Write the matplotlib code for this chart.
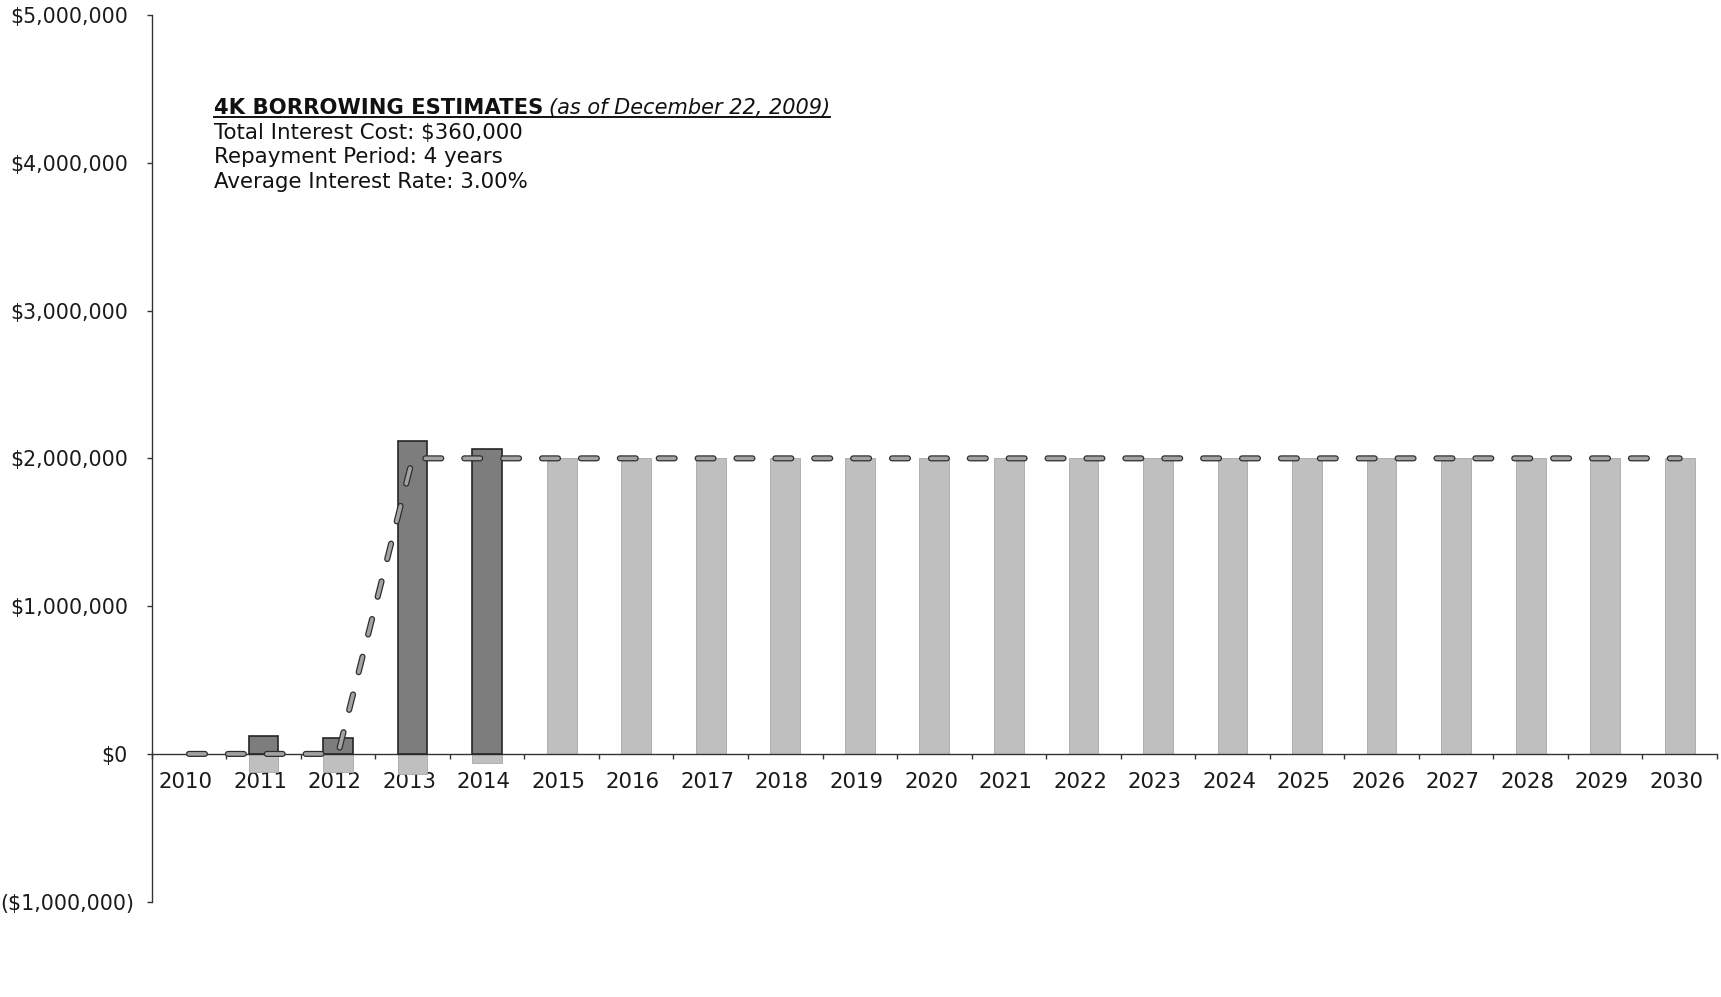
import matplotlib
matplotlib.use("Agg")
import matplotlib.pyplot as plt
import matplotlib.patheffects as pe
import matplotlib.transforms as mtransforms
from matplotlib.lines import Line2D
from matplotlib.ticker import FixedLocator, FuncFormatter, NullFormatter
import numpy as np

# ---- data ----
years = [2010, 2011, 2012, 2013, 2014, 2015, 2016, 2017, 2018, 2019, 2020,
         2021, 2022, 2023, 2024, 2025, 2026, 2027, 2028, 2029, 2030]
borrowing = [0, 118000, 110000, 2120000, 2060000, 0, 0, 0, 0, 0, 0,
             0, 0, 0, 0, 0, 0, 0, 0, 0, 0]
projected = [0, -125000, -125000, -135000, -60000, 2000000, 2000000, 2000000,
             2000000, 2000000, 2000000, 2000000, 2000000, 2000000, 2000000,
             2000000, 2000000, 2000000, 2000000, 2000000, 2000000]
limit_line = [0, 0, 0, 2000000, 2000000, 2000000, 2000000, 2000000, 2000000,
              2000000, 2000000, 2000000, 2000000, 2000000, 2000000, 2000000,
              2000000, 2000000, 2000000, 2000000, 2000000]
y_ticks = [-1000000, 0, 1000000, 2000000, 3000000, 4000000, 5000000]

title_bold = "4K BORROWING ESTIMATES"
title_italic = "(as of December 22, 2009)"
info_lines = ["Total Interest Cost: $360,000",
              "Repayment Period: 4 years",
              "Average Interest Rate: 3.00%"]

plt.rcParams["font.family"] = ["DejaVu Sans"]
plt.rcParams["lines.scale_dashes"] = False
FS_Y = 14.8
FS_X = 15.3
FS_T = 15.4
W, H = 1721, 997

fig = plt.figure(figsize=(W / 100, H / 100), dpi=100)
ax = fig.add_axes([151.7 / W, 1 - 901.7 / H, (1717 - 151.7) / W, (901.7 - 15) / H])

x = np.arange(len(years))
ax.bar(x, projected, width=0.40, color="#bfbfbf",
       edgecolor=["#a8a8a8" if v else "none" for v in projected],
       linewidth=0.6, zorder=2)
ax.bar(x, borrowing, width=0.40, color="#7d7d7d",
       edgecolor=["#262626" if v else "none" for v in borrowing],
       linewidth=1.2, zorder=3)

ax.plot(x, limit_line, color="#a3a3a3", lw=2.6, dashes=(11.5, 16.5),
        dash_capstyle="round", zorder=4,
        path_effects=[pe.Stroke(linewidth=4.4, foreground="#2e2e2e"), pe.Normal()])

ax.set_xlim(-0.5, len(years) - 0.5)
ax.set_ylim(-1000000, 5000000)

for s in ("top", "right"):
    ax.spines[s].set_visible(False)
ax.spines["bottom"].set_position(("data", 0))
for s in ("bottom", "left"):
    ax.spines[s].set_color("#333333")
    ax.spines[s].set_linewidth(1.0)


def money(v, pos=None):
    if v < 0:
        return "(${:,.0f})".format(-v)
    return "${:,.0f}".format(v)


ax.yaxis.set_major_locator(FixedLocator(y_ticks))
ax.yaxis.set_major_formatter(FuncFormatter(money))
ax.tick_params(axis="y", which="major", direction="out", length=3.6,
               width=1.0, color="#333333", pad=13.6, labelsize=FS_Y,
               labelcolor="#1a1a1a")

# category boundaries carry the tick marks, centres carry the year labels
ax.xaxis.set_major_locator(FixedLocator(np.arange(-0.5, len(years), 1.0)))
ax.xaxis.set_major_formatter(NullFormatter())
ax.xaxis.set_minor_locator(FixedLocator(x - 0.044))
ax.xaxis.set_minor_formatter(FuncFormatter(lambda v, p: str(years[int(round(v))])))
ax.tick_params(axis="x", which="major", direction="out", length=3.6,
               width=1.0, color="#333333")
ax.tick_params(axis="x", which="minor", length=0, pad=13.3, labelsize=FS_X,
               labelcolor="#1a1a1a")

# the parenthesised negative label hangs a little to the right of the others
neg_tick = ax.yaxis.get_major_ticks(len(y_ticks))[0]
neg_tick.label1.set_transform(
    neg_tick.label1.get_transform()
    + mtransforms.ScaledTranslation(0.06, 0, fig.dpi_scale_trans))

# annotation block
tx = 213.5 / W
base_px = [114.0, 138.7, 163.4, 188.1]
t_bold = fig.text(tx, 1 - base_px[0] / H, title_bold, fontsize=15.25,
                  fontweight="bold", va="baseline", ha="left", color="#111111")
fig.canvas.draw()
renderer = fig.canvas.get_renderer()
bb = t_bold.get_window_extent(renderer)
t_it = fig.text((bb.x1 + 6.5) / W, 1 - base_px[0] / H, title_italic, fontsize=FS_T - 0.4,
                style="italic", va="baseline", ha="left", color="#111111")
fig.canvas.draw()
bb2 = t_it.get_window_extent(renderer)
uy = 1 - (base_px[0] + 3.5) / H
fig.add_artist(Line2D([bb.x0 / W, bb2.x1 / W], [uy, uy], color="#111111",
                      lw=1.4, transform=fig.transFigure))

for line, base in zip(info_lines, base_px[1:]):
    fig.text(tx, 1 - base / H, line, fontsize=FS_T, va="baseline", ha="left",
             color="#111111")

fig.savefig("out.png", dpi=100, facecolor="white")
